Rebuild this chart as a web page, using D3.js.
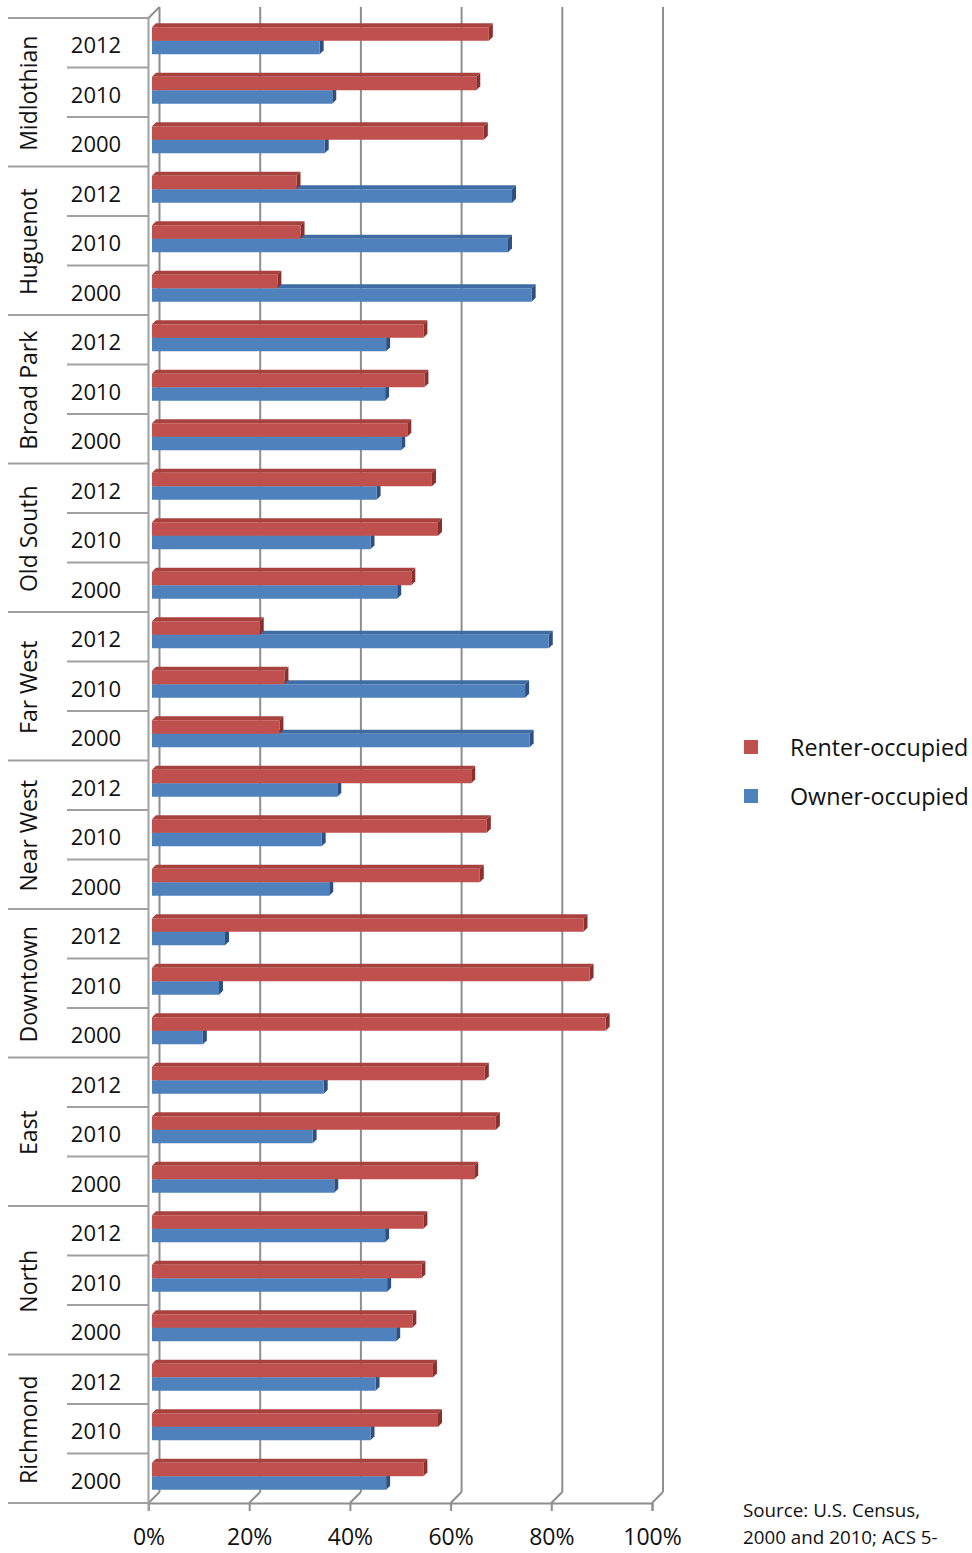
<!DOCTYPE html>
<html>
<head>
<meta charset="utf-8">
<script src="https://cdn.jsdelivr.net/npm/d3@7"></script>
<style>
  html, body { margin: 0; padding: 0; background: #fff; }
  svg { display: block; }
  text { font-family: "Open Sans", "DejaVu Sans", sans-serif; fill: #111; }
</style>
</head>
<body>
<svg id="chart" width="972" height="1553"></svg>
<script>
// ---- data ----
const groups = ["Midlothian", "Huguenot", "Broad Park", "Old South", "Far West",
                "Near West", "Downtown", "East", "North", "Richmond"];
const years = ["2012", "2010", "2000"];
// rows ordered top to bottom: each group x years
const renter = [66.9, 64.4, 65.9,  28.7, 29.5, 24.9,  53.9, 54.1, 50.7,  55.6, 56.8, 51.5,
                21.4, 26.3, 25.3,  63.4, 66.5, 65.1,  85.7, 86.9, 90.1,  66.1, 68.3, 64.0,
                53.9, 53.5, 51.7,  55.8, 56.8, 53.9];
const owner  = [33.3, 35.8, 34.3,  71.5, 70.7, 75.4,  46.5, 46.3, 49.5,  44.6, 43.4, 48.7,
                78.8, 74.1, 75.0,  36.8, 33.7, 35.2,  14.5, 13.3, 10.1,  34.1, 31.9, 36.2,
                46.3, 46.7, 48.5,  44.4, 43.4, 46.5];
const ticks = [0, 20, 40, 60, 80, 100];
const seriesNames = ["Renter-occupied", "Owner-occupied"];
const sourceLines = ["Source: U.S. Census,", "2000 and 2010; ACS 5-"];

// ---- layout ----
const svg = d3.select("#chart");
const plotTop = 18, plotBottom = 1503;
const depth = 11;           // 3D offset of back wall
const barDepth = 4;         // 3D offset of bars
const col = {
  redFront: "#C0504D", redTop: "#A8423F", redSide: "#8A302D",
  blueFront: "#4F81BD", blueTop: "#3F6CA3", blueSide: "#2D5080",
  grid: "#8e8e8e", axis: "#a0a0a0"
};

const rows = [];
groups.forEach((g, gi) => years.forEach((y, yi) => rows.push({
  key: g + "|" + y, group: g, year: y, gi, yi,
  renter: renter[gi * 3 + yi], owner: owner[gi * 3 + yi]
})));

const xFront = d3.scaleLinear().domain([0, 100]).range([148.5, 652]);
const xBack = v => xFront(v) + depth;
const xBar = d3.scaleLinear().domain([0, 100]).range([152, 655.5]);
const yRow = d3.scaleBand().domain(rows.map(r => r.key)).range([plotTop, plotBottom]);
const yGroup = d3.scaleBand().domain(groups).range([plotTop, plotBottom]);

// back wall gridlines
const g0 = svg.append("g");
g0.selectAll("line.grid").data(ticks).enter().append("line")
  .attr("x1", d => xBack(d)).attr("x2", d => xBack(d))
  .attr("y1", plotTop - depth).attr("y2", plotBottom - depth)
  .attr("stroke", col.grid).attr("stroke-width", 2);
// floor diagonals
g0.selectAll("line.diag").data(ticks).enter().append("line")
  .attr("x1", d => xFront(d)).attr("x2", d => xBack(d))
  .attr("y1", plotBottom).attr("y2", plotBottom - depth)
  .attr("stroke", col.grid).attr("stroke-width", 2);
// left wall top diagonal
g0.append("line").attr("x1", xFront(0)).attr("y1", plotTop)
  .attr("x2", xBack(0)).attr("y2", plotTop - depth)
  .attr("stroke", col.grid).attr("stroke-width", 2);

// front bottom axis
const axisG = svg.append("g").attr("transform", `translate(0,${plotBottom})`);
axisG.call(d3.axisBottom(xFront).tickValues(ticks).tickSize(8).tickFormat(d => d + "%"));
axisG.select(".domain").attr("stroke", col.grid).attr("stroke-width", 2);
axisG.selectAll(".tick line").attr("stroke", col.grid).attr("stroke-width", 2);
axisG.selectAll(".tick text").attr("y", 26).attr("dy", "0.71em")
  .style("font-family", '"Open Sans", sans-serif').style("font-size", "23px").attr("fill", "#111");

// left axis line
svg.append("line").attr("x1", xFront(0)).attr("x2", xFront(0))
  .attr("y1", plotTop).attr("y2", plotBottom + 8)
  .attr("stroke", col.axis).attr("stroke-width", 2);

// category separators
const sepG = svg.append("g");
const groupBounds = groups.map(g => yGroup(g)).concat([plotBottom]);
sepG.selectAll("line.gsep").data(groupBounds).enter().append("line")
  .attr("x1", 8).attr("x2", xFront(0))
  .attr("y1", d => d).attr("y2", d => d)
  .attr("stroke", col.axis).attr("stroke-width", 1.8);
sepG.selectAll("line.ysep").data(rows.filter(r => r.yi > 0)).enter().append("line")
  .attr("x1", 67).attr("x2", xFront(0))
  .attr("y1", d => yRow(d.key)).attr("y2", d => yRow(d.key))
  .attr("stroke", col.axis).attr("stroke-width", 1.8);

// year labels
svg.append("g").selectAll("text").data(rows).enter().append("text")
  .attr("x", 96).attr("y", d => yRow(d.key) + yRow.bandwidth() / 2 + 1.5)
  .attr("text-anchor", "middle").attr("dominant-baseline", "central")
  .style("font-size", "22px").text(d => d.year);

// group labels (rotated)
svg.append("g").selectAll("text").data(groups).enter().append("text")
  .attr("transform", d => `translate(28,${yGroup(d) + yGroup.bandwidth() / 2 + 1}) rotate(-90)`)
  .attr("text-anchor", "middle").attr("dominant-baseline", "central")
  .style("font-size", "23px").text(d => d);

// 3D bars
function bar(sel, v, yTop, h, front, topc, side) {
  const x0 = xBar(0), x1 = xBar(v), d = barDepth;
  sel.append("polygon")
    .attr("points", [[x0, yTop], [x0 + d, yTop - d], [x1 + d, yTop - d], [x1, yTop]].join(" "))
    .attr("fill", topc);
  sel.append("polygon")
    .attr("points", [[x1, yTop], [x1 + d, yTop - d], [x1 + d, yTop + h - d], [x1, yTop + h]].join(" "))
    .attr("fill", side);
  sel.append("rect").attr("x", x0).attr("y", yTop).attr("width", x1 - x0).attr("height", h)
    .attr("fill", front);
}
const barH = 13.5;
const barsG = svg.append("g");
rows.forEach(r => {
  const c = yRow(r.key) + yRow.bandwidth() / 2;
  const g = barsG.append("g");
  bar(g, r.owner, c - 2, barH, col.blueFront, col.blueTop, col.blueSide);
  bar(g, r.renter, c - 2 - barH, barH, col.redFront, col.redTop, col.redSide);
});

// legend
const leg = svg.append("g");
const legColors = [col.redFront, col.blueFront];
const legY = [747, 796];
seriesNames.forEach((n, i) => {
  leg.append("rect").attr("x", 744).attr("y", legY[i] - 7).attr("width", 14).attr("height", 14)
    .attr("fill", legColors[i]);
  leg.append("text").attr("x", 790).attr("y", legY[i]).attr("dominant-baseline", "central")
    .style("font-size", "23.3px").text(n);
});

// source note
svg.append("g").selectAll("text").data(sourceLines).enter().append("text")
  .attr("x", 743).attr("y", (d, i) => 1517 + i * 27)
  .style("font-size", "18.8px").text(d => d);
</script>
</body>
</html>
